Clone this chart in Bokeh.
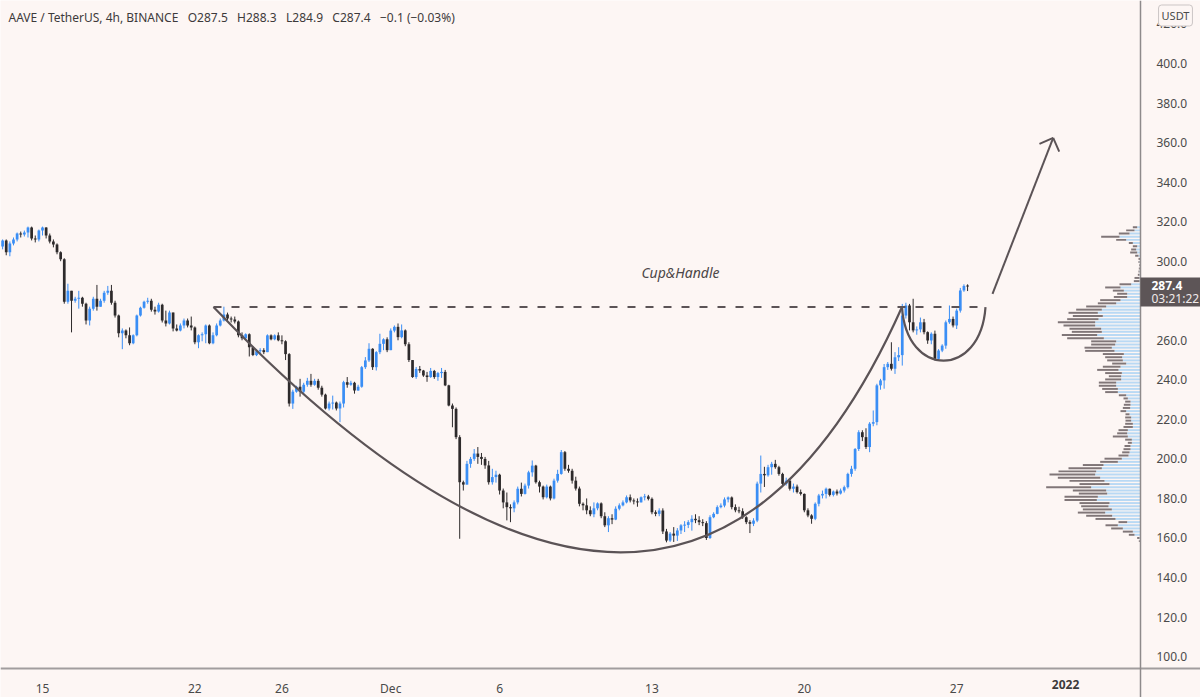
import numpy as np
from bokeh.plotting import figure
from bokeh.models import Range1d, FixedTicker, NumeralTickFormatter, Label, BoxAnnotation
from bokeh.embed import file_html
from bokeh.resources import INLINE

# ---------------- data ----------------
# time axis in days since 2021-11-01 00:00; 4h candles from 2021-11-13 04:00
first_bar_day = 12 + 4 / 24
bar_hours = 4

first_open = 307.5
closes = [
    310.5, 304.5, 309, 311, 314, 313.5, 314.5, 317, 311.5, 311,
    315.5, 317, 313, 310, 308.5, 304.5, 301, 279.5, 285, 280,
    281, 281.5, 278.5, 270, 276, 281, 277, 280, 284, 285,
    279, 272.5, 263.5, 265, 262.5, 258.5, 262.5, 272.5, 276.5, 279.5,
    280, 275.5, 274.5, 278, 270, 268.5, 274, 266, 265, 267.5,
    270, 267.5, 266.5, 259, 262.5, 263, 267.5, 258.5, 262.5, 267.5,
    270, 273, 271, 270.5, 269.5, 262.5, 261, 263, 256.5, 252.5,
    254.5, 255, 254, 262.5, 260.5, 262.5, 260, 259.5, 253, 228,
    234, 236.5, 234, 237.5, 239.5, 237.5, 239.5, 236, 232.5, 225.5,
    228, 228.5, 225.5, 228, 238.8, 237.5, 238.5, 234.6, 236.5, 246.4,
    249.8, 255.7, 246.4, 254, 258.2, 260.5, 255, 264.9, 266.8, 261.6,
    265, 258, 250, 241.4, 245.5, 244.7, 242.2, 241.4, 244.5, 241.4,
    243.4, 244, 237.2, 227, 225.3, 211, 188.2, 187, 197.5, 200,
    202.7, 201, 200, 196.7, 188.2, 190.8, 192, 184, 178, 175.6,
    175, 178, 184.9, 182.3, 186.5, 193.2, 196.6, 188.2, 186, 180.6,
    186, 180, 189, 192.4, 203.4, 195, 194, 189, 185, 177.3,
    176.5, 174, 172, 175, 177.5, 171, 166.4, 170, 169.3, 174.8,
    176.5, 178, 180.6, 179, 178.5, 178, 180.6, 181, 179.8, 173,
    172.2, 173.9, 163.3, 158.7, 162.2, 161.2, 163.8, 166.4, 166.6, 168,
    169.7, 169, 168, 167.5, 160, 170.5, 172.2, 175.6, 176.4, 179.5,
    180.5, 175.6, 174, 173.5, 170.5, 168, 167.2, 168.8, 187.5, 192.4,
    191.7, 195.8, 197.5, 195.8, 192.4, 187.4, 189, 184.9, 186, 183.2,
    182.3, 174, 171.4, 169.7, 177.3, 181.5, 182.3, 184.9, 181.8, 183.5,
    182.5, 184, 185.7, 192.4, 195, 205, 213.5, 211, 206, 217.8,
    218.6, 237.2, 239.7, 246.4, 248.1, 245.6, 251.4, 252.5, 272.5, 277.6,
    269.1, 265, 265.5, 269.1, 264.1, 259.9, 263.3, 250.6, 254.8, 257.3,
    269.1, 270.8, 267.5, 275, 285.2, 287.5, 287.4,
]
highs = [
    311, 311, 310, 312, 314.5, 315, 315.5, 317.5, 317.5, 313,
    316, 317.5, 317.2, 314, 311, 309, 305, 301.5, 288.6, 285,
    282, 285, 282, 279, 277, 282, 288, 281, 285, 287.5,
    288, 280, 273, 266, 265.5, 266.5, 263, 273, 277, 280,
    281.5, 281, 277, 279, 278.5, 275, 275, 274, 268, 268.5,
    271, 271, 272, 267, 263, 264, 268, 268, 264, 268.5,
    271, 277, 274, 272, 272, 270, 264, 263.5, 263.5, 257,
    255.5, 256, 256, 263, 263, 263, 264, 262.5, 260, 253.5,
    235, 237, 240.5, 238.5, 241, 243, 240.5, 240.5, 237, 233,
    229, 232, 229, 229, 239.5, 241.4, 239.5, 239, 237.5, 247,
    251.5, 258.5, 256, 254.5, 263.3, 261, 261.5, 266, 267.5, 268.5,
    268, 265.5, 259, 250, 246.5, 247, 245, 244, 246, 245,
    244, 246, 245, 237.5, 228, 226, 212, 189, 199, 201,
    205, 206, 203, 201, 199, 195, 194, 192.5, 185, 183,
    177, 179, 186, 188, 187.5, 194, 199.2, 197, 189, 186.5,
    187, 186.5, 190, 194.5, 204.5, 204, 197, 195, 191, 186,
    178, 180, 176, 178, 178, 178, 173, 171, 172, 176,
    177.5, 179, 181.5, 182, 180, 180, 181, 182.3, 181.8, 180.5,
    174, 175, 175, 164.6, 163, 165.5, 165, 167, 168.5, 169,
    171.5, 172, 171, 169.5, 168.5, 171.5, 173, 176.5, 177.5, 180.5,
    181, 181, 177, 175.8, 175, 171, 169, 170, 188.5, 201.7,
    196, 197, 198.5, 199.5, 196.5, 193, 190.5, 190, 187.5, 187,
    184.5, 182.5, 175, 172, 178, 182.3, 184, 185.5, 185, 184,
    184.5, 185, 186.5, 193, 196.5, 205.5, 214.5, 214.5, 215.5, 218.6,
    224.5, 238, 240.5, 248, 249, 259, 254, 256.5, 278.4, 279,
    278.4, 281, 267, 271.5, 270.8, 264.5, 264, 264.9, 255.5, 258,
    270, 277.6, 272, 276, 286.5, 288.3, 288.3,
]
lows = [
    306, 303, 302.5, 308, 310, 312, 312.5, 312, 310.5, 309.5,
    310, 313, 311.5, 309, 307, 303.5, 300, 278.5, 278.5, 264,
    279, 276, 277, 268, 267.5, 275, 275, 277, 279, 283,
    278, 271.5, 261.5, 255.5, 261, 257.5, 258, 262, 272, 276,
    278.5, 274.5, 273, 274, 269, 267, 268, 264.5, 264.5, 264.5,
    266, 266.5, 265, 258, 256, 259.5, 258.5, 258, 258, 262,
    267, 269.5, 270, 269, 268.5, 261.5, 260, 260, 251.8, 252,
    252, 253, 253, 254, 260, 260, 259.5, 258, 250, 226.5,
    225.3, 233.5, 231.5, 233, 236.5, 236.5, 237, 235, 231.5, 225,
    224.5, 225, 224.5, 218.6, 226, 236, 237, 233, 234.5, 236,
    245.5, 249, 245, 244.7, 253, 255, 254, 255, 264, 260,
    261, 257, 249, 241, 240.5, 243.5, 241.5, 239, 241, 240.5,
    239.5, 241, 236.8, 226.6, 216, 210, 159.6, 184, 187, 195.5,
    199, 197.5, 197, 195, 187, 187, 188, 182, 175, 168.9,
    168, 173, 177, 181, 182, 185, 191, 187.5, 183, 179.5,
    180, 179, 179.5, 188, 192, 194, 193, 187.5, 184, 176,
    174, 172, 171, 170.5, 174, 170, 165.5, 163, 167, 169,
    174, 176, 177.5, 178, 177, 175.8, 178, 179, 179, 172,
    171, 171, 162, 157.8, 158, 158, 158.5, 162, 163, 165,
    163.7, 167.5, 166.5, 166, 159, 159.5, 170, 172, 175, 175.5,
    178, 174.5, 173, 172.5, 169.7, 167, 162.5, 166, 168, 183,
    185.8, 191, 192, 195, 191.5, 186.5, 186.5, 184, 183, 182.5,
    181.5, 173, 170.5, 167.2, 169, 176, 180, 180, 181, 181,
    181.5, 182, 183, 185, 191, 194, 204, 209, 205, 203.4,
    216.5, 217, 235, 235.5, 245, 244.7, 243, 249.5, 247.2, 271,
    265, 264, 262.8, 264, 263, 258.2, 258, 249.8, 249.8, 254,
    255.7, 268.3, 266.5, 265.7, 274, 284.5, 284.9,
]

# x-axis tick positions (days since 2021-11-01) and their labels
tick_days = [14, 21, 25, 30, 35, 42, 49, 56, 61]
tick_labels = ["15", "22", "26", "Dec", "6", "13", "20", "27", "2022"]
price_ticks = list(range(100, 421, 20))

# visible-range volume profile, rows listed from the top row (~317) downwards
vp_top_price = 317.2
vp_row_size = 1.604
vol_down = [
    13, 25, 32, 55, 30, 12, 13, 15, 21, 10,
    6, 3, 2, 3, 3, 5, 15, 17, 35, 46,
    33, 30, 40, 61, 55, 60, 77, 88, 90, 94,
    112, 95, 95, 90, 106, 110, 75, 72, 82, 88,
    63, 51, 47, 42, 53, 64, 50, 37, 48, 52,
    52, 47, 38, 22, 13, 16, 20, 22, 17, 12,
    18, 17, 23, 28, 28, 30, 45, 20, 12, 18,
    21, 22, 30, 52, 53, 62, 100, 113, 137, 127,
    105, 90, 135, 100, 85, 100, 97, 90, 82, 87,
    82, 78, 60, 26, 37, 35, 30, 17, 7, 3,
]
vol_up = [
    10, 18, 33, 63, 43, 23, 10, 13, 10, 6,
    0, 3, 2, 2, 3, 3, 3, 3, 28, 60,
    50, 40, 40, 60, 73, 103, 116, 128, 113, 126,
    136, 136, 118, 116, 130, 110, 73, 76, 86, 78,
    50, 55, 53, 43, 60, 66, 56, 58, 58, 73,
    73, 68, 68, 43, 38, 30, 30, 31, 43, 33,
    28, 28, 23, 23, 38, 40, 38, 26, 26, 30,
    30, 33, 36, 56, 68, 111, 116, 133, 136, 121,
    108, 93, 148, 103, 100, 128, 131, 93, 96, 86,
    106, 85, 75, 40, 68, 53, 23, 18, 3, 2,
]

# drawing anchors (day, price)
level_price = 276.8
cup_start_day, cup_ctrl_day, cup_ctrl_price, cup_end_day = 21.856, 43.449, 28.7, 53.488
handle_ctrl_days = [53.695, 57.094]
handle_ctrl_price = 240.7
handle_end_day = 57.324
arrow_start = (57.646, 283.5)
arrow_tip = (60.434, 362.4)
label_text_pos = (43.31, 294.3)

SEP = "\u00a0\u00a0\u00a0"
header = ("AAVE / TetherUS, 4h, BINANCE" + SEP + "O287.5" + SEP + "H288.3" + SEP +
          "L284.9" + SEP + "C287.4" + SEP + "\u22120.1 (\u22120.03%)")
last_price = 287.4
countdown = "03:21:22"

# ---------------- styles / geometry ----------------
BG = "#fdf6f4"
UP = "#3a8ef5"
DOWN = "#2d2a2b"
DRAW = "#5b5356"
VP_UP = "#b9d9f4"
VP_DOWN = "#807678"
TXT = "#4a4a4a"
FONT = "Noto Sans"

W, H = 1200, 697
CHART_W, CHART_H = 1140, 668          # candle area; price scale / time scale outside it
SCALE_DAY = 64.445                    # day at the price-scale border
X0 = 12.070
px_day = CHART_W / (SCALE_DAY - X0)
X1 = X0 + W / px_day
Y_TOP = 431.87
Y_AXIS = 93.98                        # price at the time-scale border
px_price = CHART_H / (Y_TOP - Y_AXIS)
Y_BOT = Y_TOP - H / px_price


def py(pix):  # price at a vertical pixel position
    return Y_TOP - pix / px_price


n = len(closes)
t = first_bar_day + np.arange(n) * bar_hours / 24
c = np.array(closes, dtype=float)
o = np.concatenate([[first_open], c[:-1]])
hi = np.maximum(np.array(highs, dtype=float), np.maximum(o, c))
lo = np.minimum(np.array(lows, dtype=float), np.minimum(o, c))
colors = [UP if cc > oo else DOWN for oo, cc in zip(o, c)]
top = np.maximum(o, c)
bot = np.minimum(o, c)
small = (top - bot) < 0.5
mid = (o + c) / 2
top = np.where(small, mid + 0.25, top)
bot = np.where(small, mid - 0.25, bot)

p = figure(width=W, height=H, x_range=Range1d(X0, X1), y_range=Range1d(Y_BOT, Y_TOP),
           y_axis_location="right", output_backend="svg", toolbar_location=None,
           background_fill_color=BG, border_fill_color=BG,
           min_border_left=0, min_border_top=0, min_border_right=0, min_border_bottom=0,
           outline_line_color=None)
p.grid.visible = False

# price scale (drawn at the chart's right border)
p.yaxis.fixed_location = SCALE_DAY
p.yaxis.ticker = FixedTicker(ticks=price_ticks)
p.yaxis.formatter = NumeralTickFormatter(format="0.0")
p.yaxis.major_tick_line_color = None
p.yaxis.minor_tick_line_color = None
p.yaxis.axis_line_color = "#8e8a8b"
p.yaxis.axis_line_width = 1.5
p.yaxis.major_label_standoff = 10
p.yaxis.major_label_text_font = FONT
p.yaxis.major_label_text_font_size = "12px"
p.yaxis.major_label_text_color = TXT

# time scale (drawn at the chart's bottom border)
p.xaxis.fixed_location = Y_AXIS
p.xaxis.ticker = FixedTicker(ticks=tick_days)
overrides = {d: s for d, s in zip(tick_days, tick_labels)}
overrides[61] = ""                     # the year label is drawn bold below
p.xaxis.major_label_overrides = overrides
p.xaxis.major_tick_line_color = None
p.xaxis.minor_tick_line_color = None
p.xaxis.axis_line_color = "#a19d9e"
p.xaxis.axis_line_width = 2
p.xaxis.major_label_standoff = 5
p.xaxis.major_label_text_font = FONT
p.xaxis.major_label_text_font_size = "12px"
p.xaxis.major_label_text_color = TXT

# volume profile on its own reversed x-range (0 at the price-scale border)
p.extra_x_ranges = {"vp": Range1d(start=CHART_W * 3, end=-(W - CHART_W) * 3)}
rows_y = vp_top_price - np.arange(len(vol_up)) * vp_row_size
up_arr = np.array(vol_up, dtype=float)
dn_arr = np.array(vol_down, dtype=float)
p.hbar(y=rows_y, left=0, right=up_arr, height=vp_row_size * 0.62, x_range_name="vp",
       fill_color=VP_UP, line_color=None)
p.hbar(y=rows_y, left=up_arr, right=up_arr + dn_arr, height=vp_row_size * 0.62, x_range_name="vp",
       fill_color=VP_DOWN, line_color=None)

# candles
p.segment(x0=t, y0=lo, x1=t, y1=hi, line_color=colors, line_width=1)
p.vbar(x=t, width=0.75 * bar_hours / 24, top=top, bottom=bot, fill_color=colors, line_color=None)

# drawings
p.line(x=[cup_start_day, handle_end_day], y=[level_price, level_price], line_color=DRAW,
       line_width=2, line_dash="8 10")
p.quadratic(x0=[cup_start_day], y0=[level_price], x1=[cup_end_day], y1=[level_price],
            cx=[cup_ctrl_day], cy=[cup_ctrl_price], line_color=DRAW, line_width=2.2)
p.bezier(x0=[cup_end_day], y0=[level_price], x1=[handle_end_day], y1=[level_price],
         cx0=[handle_ctrl_days[0]], cy0=[handle_ctrl_price], cx1=[handle_ctrl_days[1]],
         cy1=[handle_ctrl_price], line_color=DRAW, line_width=2.2)
p.segment(x0=[arrow_start[0]], y0=[arrow_start[1]], x1=[arrow_tip[0]], y1=[arrow_tip[1]],
          line_color=DRAW, line_width=2)
# open arrow head: two 15px arms at +-45 degrees to the shaft (computed in screen space)
dxp = (arrow_tip[0] - arrow_start[0]) * px_day
dyp = (arrow_tip[1] - arrow_start[1]) * px_price
L = np.hypot(dxp, dyp)
bx, by = -dxp / L, -dyp / L
hx, hy = [], []
for ang in (np.pi / 4, -np.pi / 4):
    rx = bx * np.cos(ang) - by * np.sin(ang)
    ry = bx * np.sin(ang) + by * np.cos(ang)
    hx.append(arrow_tip[0] + rx * 15 / px_day)
    hy.append(arrow_tip[1] + ry * 15 / px_price)
p.segment(x0=[arrow_tip[0]] * 2, y0=[arrow_tip[1]] * 2, x1=hx, y1=hy, line_color=DRAW, line_width=2)

# texts
p.add_layout(Label(x=label_text_pos[0], y=label_text_pos[1], text="Cup&Handle", text_font=FONT,
                   text_font_style="italic", text_font_size="14px", text_color="#4b4647",
                   text_align="center", text_baseline="middle"))
p.add_layout(Label(x=X0 + 8 / px_day, y=py(17), text=header, text_font=FONT,
                   text_font_size="12px", text_color="#3d3a3b", text_align="left",
                   text_baseline="middle"))
p.add_layout(Label(x=61, y=py(684), text="2022", text_font=FONT, text_font_style="bold",
                   text_font_size="12px", text_color="#3d3a3b", text_align="center",
                   text_baseline="middle"))

# price tag on the price scale
p.add_layout(BoxAnnotation(left=SCALE_DAY, right=X1, top=py(277), bottom=py(306),
                           fill_color="#5d5557", fill_alpha=1, line_color=None))
p.add_layout(Label(x=SCALE_DAY, x_offset=11, y=py(285), text=f"{last_price:.1f}",
                   text_font=FONT, text_font_style="bold", text_font_size="12px",
                   text_color="white", text_baseline="middle"))
p.add_layout(Label(x=SCALE_DAY, x_offset=11, y=py(298), text=countdown,
                   text_font=FONT, text_font_size="12px", text_color="#f0eaea",
                   text_baseline="middle"))
p.add_layout(Label(x=SCALE_DAY, x_offset=35, y=py(15), text="USDT", text_font=FONT,
                   text_font_size="11px", text_color=TXT, text_align="center",
                   text_baseline="middle", background_fill_color=BG,
                   border_line_color="#cbc5c5", border_radius=3, padding=3))

open("out.html", "w").write(file_html(p, INLINE))
